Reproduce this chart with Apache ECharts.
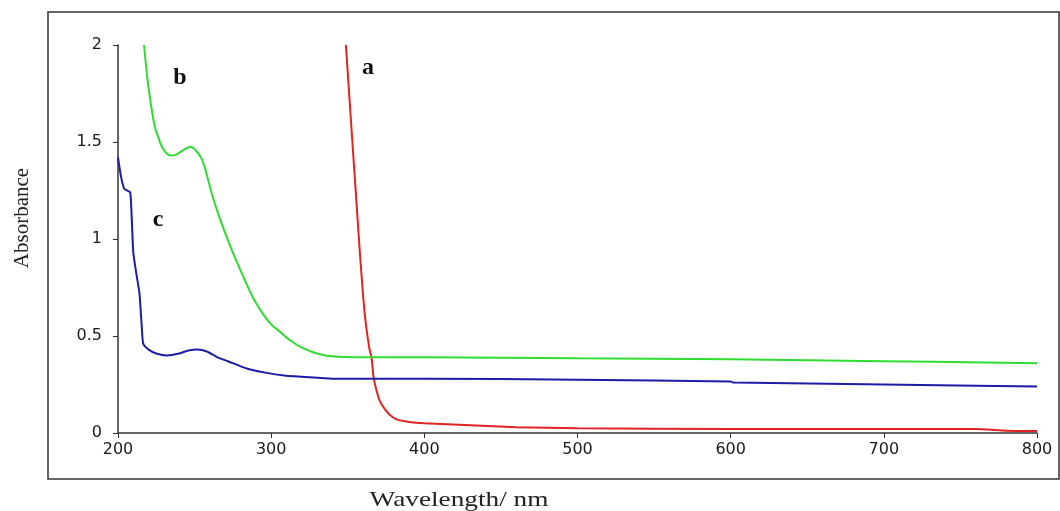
<!DOCTYPE html>
<html>
<head>
<meta charset="utf-8">
<script src="https://cdn.jsdelivr.net/npm/echarts@6/dist/echarts.min.js"></script>
<style>html,body{margin:0;padding:0;background:#fff}#c{width:1060px;height:511px}</style>
</head>
<body>
<div id="c"></div>
<script>
// Wavelength (nm) and absorbance readings
const redX = [348.8, 352, 355, 358, 361, 364, 365.5, 367, 370.4, 372, 375, 377.5, 382, 390, 400, 430, 460, 500, 600, 700, 760, 780, 800];
const redY = [2.0, 1.62, 1.27, 0.92, 0.62, 0.44, 0.39, 0.28, 0.175, 0.15, 0.115, 0.093, 0.07, 0.057, 0.05, 0.04, 0.03, 0.025, 0.02, 0.02, 0.02, 0.012, 0.01];

const greenX = [217, 219, 221, 224, 226.5, 229, 232, 235, 238, 241, 244, 247.6, 251, 254.8, 258, 261, 265, 270, 275, 281, 288, 295, 300, 306, 312, 320, 330, 340, 360, 400, 500, 600, 700, 800];
const greenY = [2.0, 1.84, 1.72, 1.58, 1.52, 1.47, 1.44, 1.43, 1.435, 1.45, 1.465, 1.474, 1.455, 1.41, 1.33, 1.24, 1.14, 1.03, 0.93, 0.82, 0.70, 0.61, 0.56, 0.52, 0.48, 0.44, 0.41, 0.395, 0.39, 0.39, 0.385, 0.38, 0.37, 0.36];

const blueX = [200, 202, 204, 206, 208, 209, 210, 212, 214, 215.5, 216.5, 220, 225, 232, 240, 246, 252, 258, 265, 275, 285, 297, 310, 320, 340, 400, 500, 600, 602, 700, 800];
const blueY = [1.42, 1.32, 1.26, 1.25, 1.24, 1.1, 0.93, 0.82, 0.72, 0.55, 0.46, 0.43, 0.41, 0.40, 0.41, 0.425, 0.43, 0.42, 0.39, 0.36, 0.33, 0.31, 0.295, 0.29, 0.28, 0.28, 0.275, 0.265, 0.26, 0.25, 0.24];

const xTicks = [200, 300, 400, 500, 600, 700, 800];
const yTicks = [0, 0.5, 1, 1.5, 2];

const zip = (xs, ys) => xs.map((x, i) => [x, ys[i]]);

const chart = echarts.init(document.getElementById('c'));
const axisText = { color: '#1a1a1a', fontFamily: '"DejaVu Sans", Arial, sans-serif', fontSize: 16 };
chart.setOption({
  animation: false,
  backgroundColor: '#fff',
  grid: { left: 118, right: 23, top: 45, bottom: 78 },
  xAxis: {
    type: 'value', min: xTicks[0], max: xTicks[xTicks.length - 1], interval: 100,
    axisLine: { show: true, onZero: false, lineStyle: { color: '#333', width: 1.5 } },
    axisTick: { show: true, length: 5, lineStyle: { color: '#333' } },
    axisLabel: Object.assign({ margin: 9 }, axisText),
    splitLine: { show: false }
  },
  yAxis: {
    type: 'value', min: yTicks[0], max: yTicks[yTicks.length - 1], interval: 0.5,
    axisLine: { show: true, lineStyle: { color: '#333', width: 1.5 } },
    axisTick: { show: true, length: 5, lineStyle: { color: '#333' } },
    axisLabel: Object.assign({ margin: 16 }, axisText),
    splitLine: { show: false }
  },
  series: [
    { name: 'a', type: 'line', data: zip(redX, redY), showSymbol: false, smooth: 0.2, lineStyle: { color: '#e02424', width: 2 } },
    { name: 'b', type: 'line', data: zip(greenX, greenY), showSymbol: false, smooth: 0.4, lineStyle: { color: '#2fdc2f', width: 2 } },
    { name: 'c', type: 'line', data: zip(blueX, blueY), showSymbol: false, smooth: 0.2, lineStyle: { color: '#1c1ca8', width: 2 } }
  ],
  graphic: [
    { type: 'rect', shape: { x: 48, y: 12, width: 1011, height: 467 }, style: { fill: null, stroke: '#333', lineWidth: 1.5 }, silent: true },
    { type: 'text', x: 22, y: 218, rotation: Math.PI / 2, style: { text: 'Absorbance', font: '21px "Liberation Serif", "Times New Roman", serif', fill: '#222', align: 'center', verticalAlign: 'middle' } },
    { type: 'text', x: 459, y: 500, scaleX: 1.24, style: { text: 'Wavelength/ nm', font: '22px "Liberation Serif", "Times New Roman", serif', fill: '#222', align: 'center', verticalAlign: 'middle' } },
    { type: 'text', x: 368, y: 68, style: { text: 'a', font: 'bold 24px "Liberation Serif", serif', fill: '#111', align: 'center', verticalAlign: 'middle' } },
    { type: 'text', x: 180, y: 78, style: { text: 'b', font: 'bold 24px "Liberation Serif", serif', fill: '#111', align: 'center', verticalAlign: 'middle' } },
    { type: 'text', x: 158, y: 220, style: { text: 'c', font: 'bold 24px "Liberation Serif", serif', fill: '#111', align: 'center', verticalAlign: 'middle' } }
  ]
});
</script>
</body>
</html>
